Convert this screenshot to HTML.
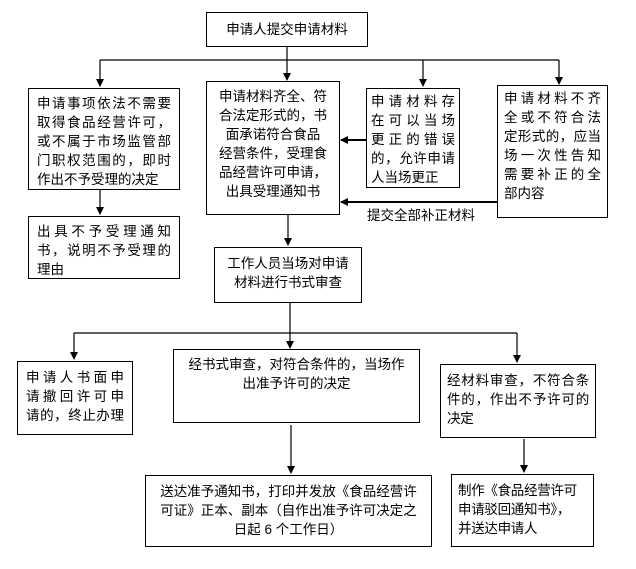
<!DOCTYPE html>
<html><head><meta charset="utf-8"><style>
body{margin:0;width:636px;height:569px;background:#fff;position:relative;overflow:hidden;font-family:"Liberation Sans","Noto Sans CJK SC",sans-serif;font-size:13.5px;color:#000}
.b{position:absolute;border:1px solid #000;box-sizing:border-box;line-height:19px;padding:3px 5px;white-space:nowrap}
.c{text-align:center}
.j div{text-align:justify;text-align-last:justify}
.j div.l{text-align-last:left}
svg{position:absolute;left:0;top:0}
</style></head><body>
<svg width="636" height="569">
<defs><marker id="a" markerWidth="8" markerHeight="8" refX="7" refY="4" orient="auto" markerUnits="userSpaceOnUse"><path d="M0,0 L8,4 L0,8z" fill="#000"/></marker></defs>
<g stroke="#000" stroke-width="1.2" fill="none">
<line x1="287" y1="46" x2="287" y2="60"/>
<line x1="100" y1="60" x2="559" y2="60"/>
<line x1="100" y1="60" x2="100" y2="86" marker-end="url(#a)"/>
<line x1="287" y1="60" x2="287" y2="80" marker-end="url(#a)"/>
<line x1="423" y1="60" x2="423" y2="86" marker-end="url(#a)"/>
<line x1="559" y1="60" x2="559" y2="84" marker-end="url(#a)"/>
<line x1="100" y1="190" x2="100" y2="214" marker-end="url(#a)"/>
<line x1="366" y1="140" x2="341" y2="140" stroke-width="2" marker-end="url(#a)"/>
<line x1="497" y1="202" x2="341" y2="202" stroke-width="2" marker-end="url(#a)"/>
<line x1="288" y1="215" x2="288" y2="245" marker-end="url(#a)"/>
<line x1="290" y1="302" x2="290" y2="333"/>
<line x1="74" y1="333" x2="517" y2="333"/>
<line x1="74" y1="333" x2="74" y2="359" marker-end="url(#a)"/>
<line x1="290" y1="333" x2="290" y2="348" marker-end="url(#a)"/>
<line x1="517" y1="333" x2="517" y2="362" marker-end="url(#a)"/>
<line x1="291" y1="425" x2="291" y2="473" marker-end="url(#a)"/>
<line x1="524" y1="439" x2="524" y2="472" marker-end="url(#a)"/>
</g>
<text x="367" y="220" font-size="13.5" font-family="Liberation Sans,Noto Sans CJK SC,sans-serif">提交全部补正材料</text>
</svg>
<div class="b c" style="left:206px;top:12px;width:162px;height:35px;line-height:27px">申请人提交申请材料</div>
<div class="b j" style="left:28px;top:88px;width:152px;height:102px;padding:5px 8px 0"><div>申请事项依法不需要</div><div>取得食品经营许可，</div><div>或不属于市场监管部</div><div>门职权范围的，即时</div><div class="l">作出不予受理的决定</div></div>
<div class="b j" style="left:28px;top:216px;width:152px;height:63px;padding:5px 8px 0"><div>出具不予受理通知</div><div>书，说明不予受理的</div><div class="l">理由</div></div>
<div class="b c" style="left:206px;top:81px;width:134px;height:134px;padding:5px 2px 0"><div>申请材料齐全、符</div><div>合法定形式的，书</div><div>面承诺符合食品</div><div>经营条件，受理食</div><div>品经营许可申请，</div><div>出具受理通知书</div></div>
<div class="b j" style="left:366px;top:88px;width:94px;height:100px;padding:3px 4px 0"><div>申请材料存</div><div>在可以当场</div><div>更正的错误</div><div>的，允许申请</div><div class="l">人当场更正</div></div>
<div class="b j" style="left:497px;top:85px;width:111px;height:133px;padding:3px 6px 0"><div>申请材料不齐</div><div>全或不符合法</div><div>定形式的，应当</div><div>场一次性告知</div><div>需要补正的全</div><div class="l">部内容</div></div>
<div class="b c" style="left:214px;top:247px;width:148px;height:56px;padding-top:6px"><div>工作人员当场对申请</div><div>材料进行书式审查</div></div>
<div class="b j" style="left:17px;top:361px;width:116px;height:74px;padding:6px 8px 0"><div>申请人书面申</div><div>请撤回许可申</div><div>请的，终止办理</div></div>
<div class="b c" style="left:173px;top:349px;width:247px;height:74px;padding-top:5px"><div>经书式审查，对符合条件的，当场作</div><div>出准予许可的决定</div></div>
<div class="b j" style="left:440px;top:364px;width:156px;height:74px;padding:6px 6px 0;letter-spacing:-0.3px"><div>经材料审查，不符合条</div><div>件的，作出不予许可的</div><div class="l">决定</div></div>
<div class="b c" style="left:145px;top:475px;width:287px;height:72px;padding:6px 2px 0"><div>送达准予通知书，打印并发放《食品经营许</div><div>可证》正本、副本（自作出准予许可决定之</div><div>日起 6 个工作日）</div></div>
<div class="b" style="left:451px;top:474px;width:143px;height:73px;padding:6px 6px 0;letter-spacing:-0.3px"><div>制作《食品经营许可</div><div>申请驳回通知书》，</div><div>并送达申请人</div></div>
</body></html>
